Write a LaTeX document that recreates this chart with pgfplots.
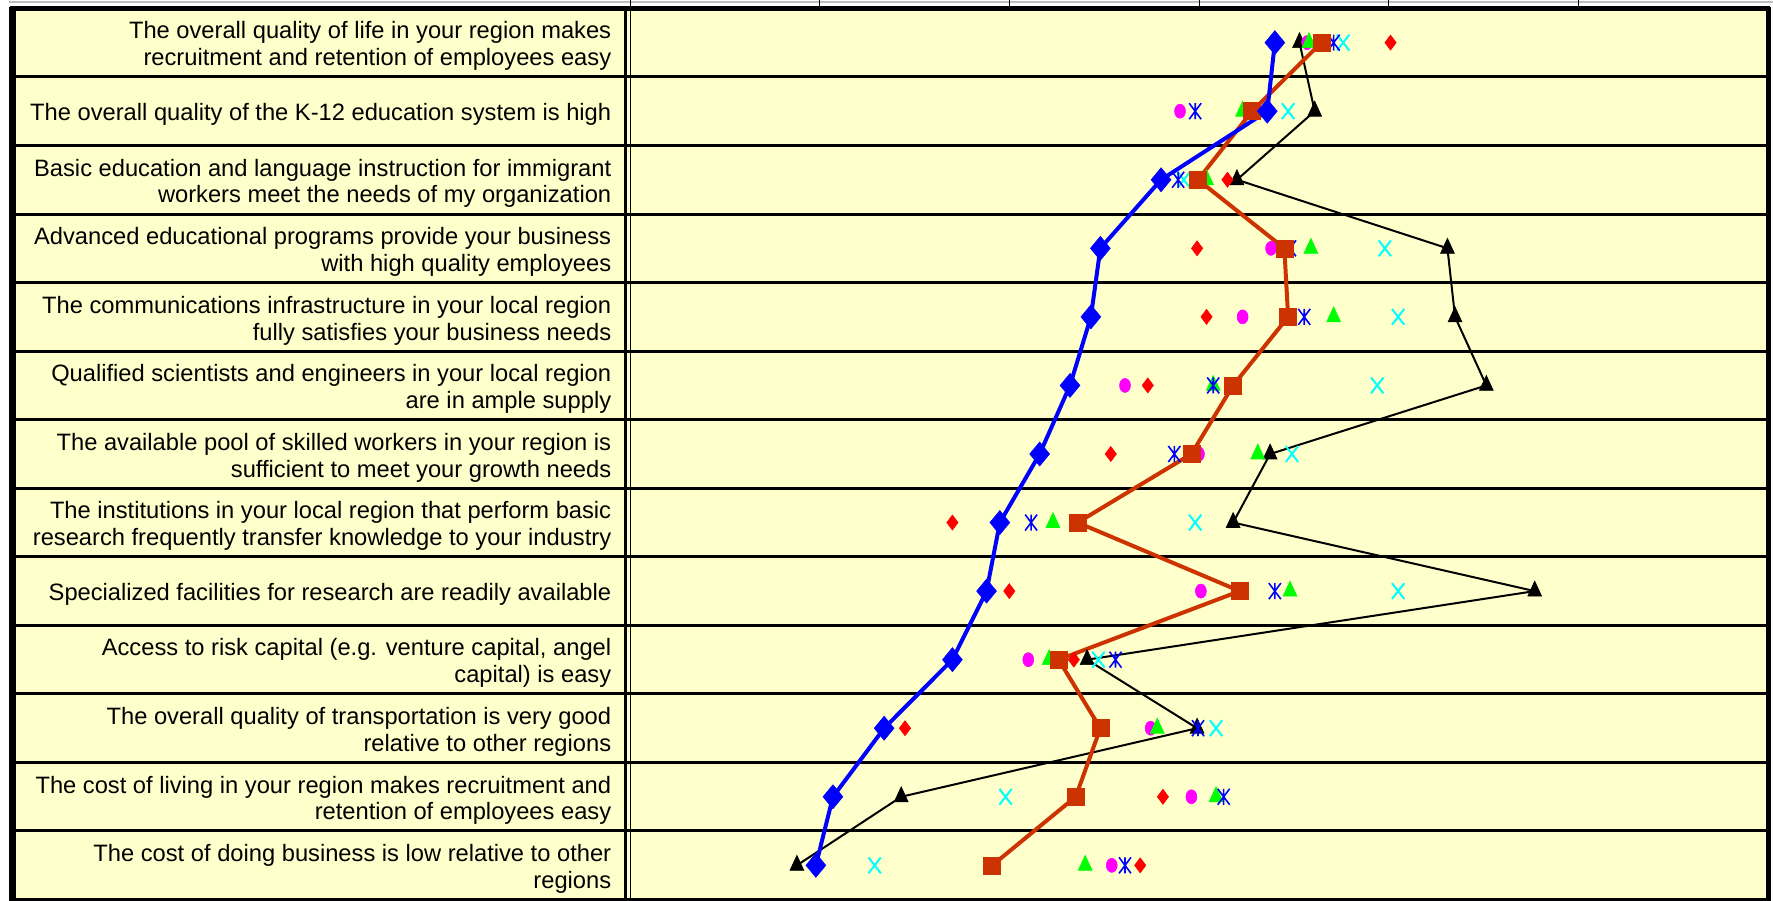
\documentclass[border=0pt]{standalone}
\usepackage{fontspec}
\setmainfont{Liberation Sans}
\usepackage{pgfplots}
\pgfplotsset{compat=1.18}
\usepackage{pgfplotstable}
\definecolor{bgyellow}{HTML}{FFFFCC}
\definecolor{sqorange}{HTML}{CC3300}
\definecolor{mkmag}{RGB}{255,0,255}
\definecolor{mkcyan}{RGB}{0,255,255}
\definecolor{mkgreen}{RGB}{0,255,0}
\definecolor{mkred}{RGB}{255,0,0}
\definecolor{mkblue}{RGB}{0,0,255}

\pgfdeclareplotmark{xstar}{%
  \pgfpathmoveto{\pgfqpoint{0pt}{-\pgfplotmarksize}}\pgfpathlineto{\pgfqpoint{0pt}{\pgfplotmarksize}}%
  \pgfpathmoveto{\pgfqpoint{-.75\pgfplotmarksize}{-\pgfplotmarksize}}\pgfpathlineto{\pgfqpoint{.75\pgfplotmarksize}{\pgfplotmarksize}}%
  \pgfpathmoveto{\pgfqpoint{-.75\pgfplotmarksize}{\pgfplotmarksize}}\pgfpathlineto{\pgfqpoint{.75\pgfplotmarksize}{-\pgfplotmarksize}}%
  \pgfusepathqstroke}

\pgfplotstableread{
row sBlue sOrange sBlack sRed sMag sGreen sCyan sStar
1  4.40 4.645 4.53  5.01  4.57  4.58  4.76 4.71
2  4.36 4.28  4.61  4.27  3.90  4.23  4.47 3.98
3  3.80 3.995 4.20  4.15  3.99  4.04  3.92 3.89
4  3.48 4.45  5.31  3.99  4.38  4.59  4.98 4.48
5  3.43 4.47  5.35  4.04  4.23  4.71  5.05 4.555
6  3.32 4.18  5.515 3.73  3.61  4.075 4.94 4.075
7  3.16 3.96  4.375 3.535 4.00  4.31  4.49 3.87
8  2.95 3.36  4.18  2.70  3.36  3.23  3.98 3.115
9  2.88 4.215 5.77  3.00  4.01  4.48  5.05 4.40
10 2.70 3.26  3.41  3.34  3.10  3.21  3.47 3.56
11 2.34 3.48  3.99  2.45  3.745 3.78  4.09 3.995
12 2.07 3.35  2.43  3.81  3.96  4.09  2.98 4.13
13 1.98 2.91  1.88  3.69  3.54  3.40  2.29 3.61
}\data

\begin{document}
\begin{tikzpicture}
\begin{scope}[x=0.5pt,y=-0.5pt]
  \fill[white] (0,0) rectangle (1773,900);
  \fill[bgyellow] (12,8) rectangle (1768,905);
  \draw[black!25, line width=0.6pt] (9,2) -- (1773,2);
  \foreach \i in {1,...,12} {
    \draw[line width=1.5pt] (12,{8.35+\i*68.55}) -- (1768,{8.35+\i*68.55});
  }
  \foreach \xx in {630,819.67,1009.33,1199,1388.67,1578.33} {
    \draw[line width=0.5pt] (\xx,-2) -- (\xx,8);
  }
  \draw[line width=2.5pt] (10,8) -- (1770,8);
  \draw[line width=3.3pt] (12.3,6.5) -- (12.3,905);
  \draw[line width=2.5pt] (1768.5,6.5) -- (1768.5,905);
  \draw[line width=1.5pt] (12,899.6) -- (1768,899.6);
  \draw[line width=1.5pt] (625.5,8) -- (625.5,905);
  \draw[line width=0.75pt] (630.5,8) -- (630.5,905);
\end{scope}
\begin{axis}[
  at={(315pt,-4.175pt)}, anchor=north west,
  scale only axis, width=569pt, height=445.625pt,
  xmin=1, xmax=7, ymin=0.5, ymax=13.5, y dir=reverse,
  axis line style={draw=none},
  xtick={1,2,3,4,5,6,7}, xticklabels={}, xtick style={draw=none},
  ytick={1,...,13}, ytick style={draw=none},
  yticklabels={
    {The overall quality of life in your region makes\\recruitment and retention of employees easy},
    {The overall quality of the K-12 education system is high},
    {Basic education and language instruction for immigrant\\workers meet the needs of my organization},
    {Advanced educational programs provide your business\\with high quality employees},
    {The communications infrastructure in your local region\\fully satisfies your business needs},
    {Qualified scientists and engineers in your local region\\are in ample supply},
    {The available pool of skilled workers in your region is\\sufficient to meet your growth needs},
    {The institutions in your local region that perform basic\\research frequently transfer knowledge to your industry},
    {Specialized facilities for research are readily available},
    {Access to risk capital (e.g. venture capital, angel\\capital) is easy},
    {The overall quality of transportation is very good\\relative to other regions},
    {The cost of living in your region makes recruitment and\\retention of employees easy},
    {The cost of doing business is low relative to other\\regions}
  },
  yticklabel style={font=\fontsize{11.85pt}{13.4pt}\selectfont, align=right, anchor=east, inner sep=0pt, xshift=-9.2pt, yshift=-1.8pt},
  clip=false,
]
\addplot[black, line width=1pt, mark=triangle*, mark size=5pt, mark options={xscale=0.8, solid, line width=0.3pt}] table[x=sBlack, y=row]{\data};
\addplot[only marks, mkred, mark=diamond*, mark size=3.75pt, mark options={line width=0.3pt}] table[x=sRed, y=row]{\data};
\addplot[only marks, mkmag, mark=*, mark size=3.5pt, mark options={xscale=0.78, line width=0.3pt}] table[x=sMag, y=row]{\data};
\addplot[only marks, mkgreen, mark=triangle*, mark size=5pt, mark options={xscale=0.8, line width=0.3pt}] table[x=sGreen, y=row]{\data};
\addplot[only marks, mkcyan, mark=x, mark size=5.6pt, mark options={xscale=0.78, line width=1pt}] table[x=sCyan, y=row]{\data};
\addplot[only marks, mkblue, mark=xstar, mark size=4pt, mark options={line width=0.8pt}] table[x=sStar, y=row]{\data};
\addplot[sqorange, line width=2pt, mark=square*, mark size=4.25pt, mark options={solid, line width=0.3pt}] table[x=sOrange, y=row]{\data};
\addplot[mkblue, line width=2pt, mark=diamond*, mark size=6pt, mark options={xscale=1.1, solid, line width=0.3pt}] table[x=sBlue, y=row]{\data};
\end{axis}
\pgfresetboundingbox
\path[use as bounding box] (0pt,0pt) rectangle (886.5pt,-450pt);
\end{tikzpicture}
\end{document}
